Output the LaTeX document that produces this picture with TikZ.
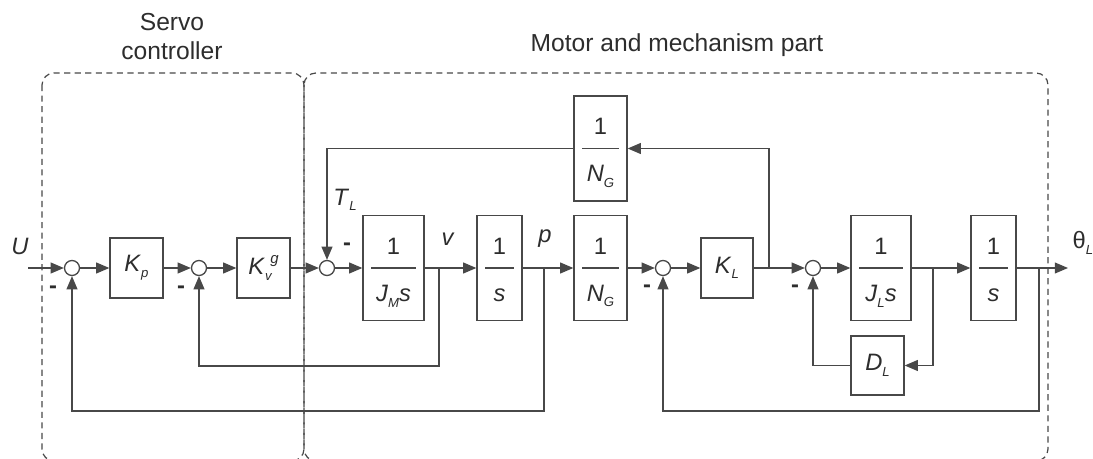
\documentclass[tikz,border=0pt]{standalone}
\usepackage{fontspec}
\setmainfont{Liberation Sans}
\usepackage{xcolor}
\usepackage{tikz}
\usetikzlibrary{arrows.meta,positioning}

\definecolor{ln}{RGB}{72,72,72}
\definecolor{txt}{RGB}{45,45,45}
\newcommand{\lsub}[1]{\raisebox{-3.2pt}{\fontsize{7.5}{8}\selectfont\textit{#1}}}
\newcommand{\lsup}[1]{\raisebox{6pt}{\fontsize{8.5}{9}\selectfont\textit{#1}}}
\newcommand{\frc}[1]{\rule{0pt}{14.5pt}1\\[10.7pt]\rule[-3.2pt]{0pt}{3.2pt}#1}

\begin{document}
\begin{tikzpicture}[
    x=0.02cm, y=-0.02cm,
    line width=0.75pt,
    every node/.style={font=\fontsize{13.5}{16}\selectfont, text=txt},
    title/.style={font=\fontsize{14}{16.5}\selectfont, align=center},
    blk/.style={draw=ln, fill=white, inner sep=0pt, minimum width=1.06cm, minimum height=1.2cm},
    frac/.style={blk, minimum height=2.1cm, align=center,
        path picture={\draw[ln] ([xshift=0.16cm]path picture bounding box.west) -- ([xshift=-0.16cm]path picture bounding box.east);}},
    sum/.style={draw=ln, circle, inner sep=0pt, minimum size=0.3cm},
    arr/.style={draw=ln, -{Triangle[length=7.5pt,width=6.2pt]}},
    group/.style={draw=ln, line width=0.7pt, dash pattern=on 3.5pt off 2.5pt, rounded corners=0.24cm}
]
\useasboundingbox (0,0) rectangle (1093,459);
\draw[group] (42,73) rectangle (304,461);
\draw[group] (304,73) rectangle (1048,461);
\node[title] (servo) at (172,37) {Servo\\controller};
\node[title] (motor) at (677,45) {Motor and mechanism part};

\node (u) at (20,246) {\textit{U}};
\coordinate (in) at (28,268);
\node[sum] (s1) at (72,268) {};
\node[blk] (kp) at (136.5,268) {\textit{K}\lsub{p}};
\node[sum] (s2) at (199,268) {};
\node[blk] (kv) at (263.5,268) {\textit{K}\rlap{\lsub{v}}\hspace{3pt}\lsup{g}};
\node[sum] (s3) at (327,268) {};
\node[frac, minimum width=1.22cm] (jm) at (393.5,268) {\frc{\textit{J}\lsub{M}\textit{s}}};
\node[frac, minimum width=0.9cm] (i1) at (499.5,268) {\frc{\textit{s}}};
\node[frac] (ng) at (600.5,268) {\frc{\textit{N}\lsub{G}}};
\node[frac] (ngt) at (600.5,148.5) {\frc{\textit{N}\lsub{G}}};
\node[sum] (s4) at (663,268) {};
\node[blk, minimum width=1.04cm] (kl) at (727,268) {\textit{K}\lsub{L}};
\node[sum] (s5) at (813,268) {};
\node[frac, minimum width=1.2cm] (jl) at (881,268) {\frc{\textit{J}\lsub{L}\textit{s}}};
\node[blk, minimum height=1.18cm] (dl) at (877.5,365.5) {\textit{D}\lsub{L}};
\node[frac, minimum width=0.9cm] (i2) at (993.5,268) {\frc{\textit{s}}};
\coordinate (out) at (1068,268);

\node (v) at (448,239) {\textit{v}};
\node (p) at (545,239) {\textit{p}};
\node (tl) at (345,200) {\textit{T}\lsub{L}};
\node (th) at (1083,243) {θ\lsub{L}};
\node (m1) at (53,290) {\textbf{-}};
\node (m2) at (181,290) {\textbf{-}};
\node (m3) at (347,247) {\textbf{-}};
\node (m4) at (647,289) {\textbf{-}};
\node (m5) at (795,289) {\textbf{-}};

\coordinate (bv) at (439,268);
\coordinate (bp) at (544,268);
\coordinate (bk) at (769,268);
\coordinate (bj) at (933,268);
\coordinate (bo) at (1039,268);
\coordinate (lo1) at (0,366);
\coordinate (lo2) at (0,411);

\draw[arr] (in) -- (s1);
\draw[arr] (s1) -- (kp);
\draw[arr] (kp) -- (s2);
\draw[arr] (s2) -- (kv);
\draw[arr] (kv) -- (s3);
\draw[arr] (s3) -- (jm);
\draw[arr] (jm) -- (i1);
\draw[arr] (i1) -- (ng);
\draw[arr] (ng) -- (s4);
\draw[arr] (s4) -- (kl);
\draw[arr] (kl) -- (s5);
\draw[arr] (s5) -- (jl);
\draw[arr] (jl) -- (i2);
\draw[arr] (i2) -- (out);
\draw[arr] (bv) -- (bv |- lo1) -| (s2);
\draw[arr] (bp) -- (bp |- lo2) -| (s1);
\draw[arr] (bk) |- (ngt);
\draw[arr] (ngt) -| (s3);
\draw[arr] (bj) |- (dl);
\draw[arr] (dl) -| (s5);
\draw[arr] (bo) -- (bo |- lo2) -| (s4);
\end{tikzpicture}
\end{document}
